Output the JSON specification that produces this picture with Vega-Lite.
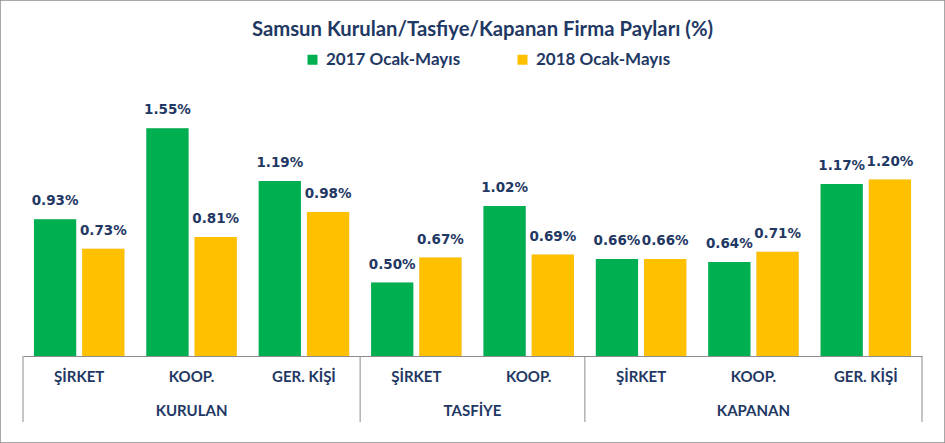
{
  "$schema": "https://vega.github.io/schema/vega-lite/v6.json",
  "width": 945,
  "height": 443,
  "autosize": {"type": "none"},
  "padding": 0,
  "background": "white",
  "config": {"view": {"stroke": "#8c8c8c", "strokeWidth": 1.5}, "font": "Lato"},
  "title": {
    "text": "Samsun Kurulan/Tasfiye/Kapanan Firma Payları (%)",
    "font": "Lato", "fontSize": 20.3, "fontWeight": "bold", "color": "#1F3864",
    "anchor": "middle", "frame": "group", "offset": -40, "dx": 10
  },
  "datasets": {
    "main": [
      {"cat": "1|ŞİRKET", "series": "2017 Ocak-Mayıs", "value": 0.93},
      {"cat": "1|ŞİRKET", "series": "2018 Ocak-Mayıs", "value": 0.73},
      {"cat": "2|KOOP.", "series": "2017 Ocak-Mayıs", "value": 1.55},
      {"cat": "2|KOOP.", "series": "2018 Ocak-Mayıs", "value": 0.81},
      {"cat": "3|GER. KİŞİ", "series": "2017 Ocak-Mayıs", "value": 1.19},
      {"cat": "3|GER. KİŞİ", "series": "2018 Ocak-Mayıs", "value": 0.98},
      {"cat": "4|ŞİRKET", "series": "2017 Ocak-Mayıs", "value": 0.50},
      {"cat": "4|ŞİRKET", "series": "2018 Ocak-Mayıs", "value": 0.67},
      {"cat": "5|KOOP.", "series": "2017 Ocak-Mayıs", "value": 1.02},
      {"cat": "5|KOOP.", "series": "2018 Ocak-Mayıs", "value": 0.69},
      {"cat": "6|ŞİRKET", "series": "2017 Ocak-Mayıs", "value": 0.66},
      {"cat": "6|ŞİRKET", "series": "2018 Ocak-Mayıs", "value": 0.66},
      {"cat": "7|KOOP.", "series": "2017 Ocak-Mayıs", "value": 0.64},
      {"cat": "7|KOOP.", "series": "2018 Ocak-Mayıs", "value": 0.71},
      {"cat": "8|GER. KİŞİ", "series": "2017 Ocak-Mayıs", "value": 1.17},
      {"cat": "8|GER. KİŞİ", "series": "2018 Ocak-Mayıs", "value": 1.20}
    ],
    "groups": [
      {"grp": "KURULAN", "start": 0, "end": 3},
      {"grp": "TASFİYE", "start": 3, "end": 5},
      {"grp": "KAPANAN", "start": 5, "end": 8}
    ],
    "bounds": [{"b": 0}, {"b": 3}, {"b": 5}, {"b": 8}]
  },
  "resolve": {"scale": {"x": "independent"}, "axis": {"x": "independent"}},
  "layer": [
    {
      "data": {"name": "main"},
      "encoding": {
        "x": {
          "field": "cat", "type": "nominal", "sort": null,
          "scale": {"range": [23, 922], "paddingInner": 0, "paddingOuter": 0},
          "axis": {
            "orient": "bottom", "offset": -87, "title": null, "ticks": false,
            "domain": true, "domainColor": "#8c8c8c", "domainWidth": 1,
            "labelAngle": 0, "labelPadding": 13, "labelFont": "Lato",
            "labelFontSize": 15, "labelFontWeight": "bold", "labelColor": "#1F3864",
            "labelExpr": "split(datum.label, '|')[1]"
          }
        },
        "xOffset": {
          "field": "series", "type": "nominal", "sort": null,
          "scale": {"paddingInner": 0.124, "paddingOuter": 0.227}
        },
        "y": {
          "field": "value", "type": "quantitative",
          "scale": {"domain": [0, 1.8], "range": [356, 91.4], "nice": false, "zero": true},
          "axis": null
        }
      },
      "layer": [
        {"mark": {"type": "bar", "color": "#000000", "opacity": 0.15, "xOffset": 3}},
        {
          "mark": {"type": "bar"},
          "encoding": {
            "color": {
              "field": "series", "type": "nominal",
              "scale": {"domain": ["2017 Ocak-Mayıs", "2018 Ocak-Mayıs"], "range": ["#00B050", "#FFC000"]},
              "legend": {
                "orient": "none", "legendX": 304, "legendY": 51, "direction": "horizontal",
                "title": null, "symbolType": "square", "symbolSize": 100, "symbolStrokeWidth": 0,
                "labelFont": "Lato", "labelFontSize": 17, "labelFontWeight": "bold",
                "labelColor": "#1F3864", "columnPadding": 53, "labelOffset": 5
              }
            }
          }
        },
        {
          "transform": [{"calculate": "format(datum.value, '.2f') + '%'", "as": "label"}],
          "mark": {"type": "text", "font": "DejaVu Sans", "fontWeight": "bold", "fontSize": 13.5, "color": "#1F3864", "baseline": "alphabetic", "dy": -14},
          "encoding": {"text": {"field": "label", "type": "nominal"}}
        }
      ]
    },
    {
      "data": {"name": "bounds"},
      "mark": {"type": "rule", "color": "#8c8c8c", "strokeWidth": 1},
      "encoding": {
        "x": {"field": "b", "type": "quantitative", "scale": {"domain": [0, 8], "range": [23, 922]}, "axis": null},
        "y": {"datum": 0},
        "y2": {"datum": -0.449}
      }
    },
    {
      "data": {"name": "groups"},
      "transform": [{"calculate": "(datum.start + datum.end) / 2", "as": "mid"}],
      "mark": {"type": "text", "font": "Lato", "fontSize": 15, "fontWeight": "bold", "color": "#1F3864", "baseline": "middle"},
      "encoding": {
        "x": {"field": "mid", "type": "quantitative", "scale": {"domain": [0, 8], "range": [23, 922]}, "axis": null},
        "y": {"datum": -0.374},
        "text": {"field": "grp"}
      }
    }
  ]
}
